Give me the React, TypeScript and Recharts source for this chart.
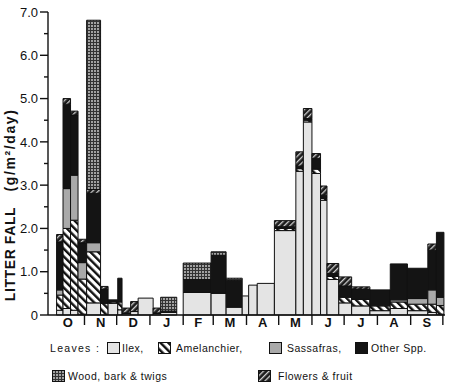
import { ComposedChart, Line, ReferenceArea, XAxis, YAxis } from "recharts";

// days counted from 1 October
const months = ["O", "N", "D", "J", "F", "M", "A", "M", "J", "J", "A", "S"];
const monthStarts = [0, 31, 61, 92, 123, 151, 182, 212, 243, 273, 304, 335, 365];
const yTicks = [0, 0.5, 1, 1.5, 2, 2.5, 3, 3.5, 4, 4.5, 5, 5.5, 6, 6.5, 7];

// collection intervals
const barStart = [5, 11, 18, 25, 33, 46, 53, 62, 66, 74, 81, 95, 102, 123, 149, 163, 178, 184, 192, 208, 228, 235, 243, 251, 257, 268, 280, 297, 316, 332, 351, 359];
const barEnd = [11, 18, 25, 33, 46, 53, 62, 66, 74, 81, 95, 102, 117, 149, 163, 178, 184, 192, 208, 228, 235, 243, 251, 257, 268, 280, 297, 316, 332, 351, 359, 366];

// g/m2/day, in stacking order bottom -> top
const ilex = [0.11, 0.15, 0.11, 0.02, 0.28, 0, 0.27, 0.12, 0.03, 0.08, 0.39, 0.03, 0.06, 0.52, 0.5, 0.18, 0.44, 0.69, 0.73, 1.95, 3.32, 4.46, 3.27, 2.65, 0.82, 0.28, 0.21, 0.1, 0.15, 0.1, 0.06, 0.02];
const amelanchier = [0.35, 1.85, 2.08, 0.81, 1.18, 0.27, 0.03, 0.18, 0, 0, 0, 0, 0, 0, 0, 0, 0, 0, 0, 0.05, 0.06, 0.04, 0.1, 0.04, 0.07, 0.13, 0.15, 0.11, 0.15, 0.15, 0.19, 0.2];
const sassafras = [0.12, 0.92, 1.04, 0.38, 0.21, 0, 0, 0, 0, 0, 0, 0, 0, 0, 0, 0, 0, 0, 0, 0, 0, 0, 0, 0, 0, 0, 0, 0, 0.05, 0.13, 0.33, 0.19];
const otherSpp = [1.11, 1.95, 1.39, 0.46, 1.14, 0.33, 0.05, 0.55, 0.02, 0, 0, 0.02, 0.03, 0.3, 0.88, 0.62, 0, 0, 0, 0.04, 0.06, 0.04, 0.25, 0.08, 0.07, 0.26, 0.24, 0.37, 0.83, 0.7, 0.92, 1.5];
const flowers = [0.17, 0.13, 0.09, 0.08, 0.09, 0.06, 0, 0, 0.11, 0.23, 0, 0.11, 0, 0, 0, 0, 0, 0, 0, 0.14, 0.33, 0.23, 0.11, 0.21, 0.23, 0.21, 0.05, 0, 0, 0, 0.14, 0];
const wood = [0, 0, 0, 0, 3.91, 0, 0, 0, 0, 0, 0, 0, 0.32, 0.38, 0.08, 0.05, 0, 0, 0, 0, 0, 0, 0, 0, 0, 0, 0, 0, 0, 0, 0, 0];

const layers = [
  { name: "Ilex,", values: ilex, fill: "#e4e4e4" },
  { name: "Amelanchier,", values: amelanchier, fill: "url(#pAmel)" },
  { name: "Sassafras,", values: sassafras, fill: "#a9a9a9" },
  { name: "Other Spp.", values: otherSpp, fill: "#141414" },
  { name: "Flowers & fruit", values: flowers, fill: "url(#pFlow)" },
  { name: "Wood, bark & twigs", values: wood, fill: "url(#pWood)" },
];

const ink = "#111";
const font = "'Liberation Sans', Arial, sans-serif";

const monthMids = months.map((_, i) => (monthStarts[i] + monthStarts[i + 1]) / 2);

const bars = barStart.map((s, i) => ({ x: (s + barEnd[i]) / 2, total: layers.reduce((a, l) => a + l.values[i], 0) }));

function YTick(props: any) {
  const { x, y, payload } = props;
  const v = payload.value as number;
  const major = Number.isInteger(v);
  return (
    <g>
      <line x1={x - (major ? 8 : 4)} x2={x} y1={y} y2={y} stroke={ink} strokeWidth={1.4} />
      {major && (
        <text x={x - 10} y={y} dy="0.36em" textAnchor="end" fontSize={13} fill={ink} fontFamily={font}>
          {v === 0 ? "0" : v.toFixed(1)}
        </text>
      )}
    </g>
  );
}

function XTick(props: any) {
  const { x, y } = props;
  return <line x1={x} x2={x} y1={y} y2={y + 10} stroke={ink} strokeWidth={1.4} />;
}

function YLabel(props: any) {
  const vb = props.viewBox;
  const cx = vb.x + 10;
  const y1 = vb.y + 242;
  const y2 = vb.y + 138;
  return (
    <g fontFamily={font} fontWeight="bold" fontSize={14} fill={ink}>
      <text x={cx} y={y1} textAnchor="middle" dominantBaseline="central" transform={`rotate(-90 ${cx} ${y1})`} letterSpacing={0.6}>
        LITTER  FALL
      </text>
      <text x={cx} y={y2} textAnchor="middle" dominantBaseline="central" transform={`rotate(-90 ${cx} ${y2})`} letterSpacing={1.6}>
        (g/m²/day)
      </text>
    </g>
  );
}

function Swatch({ fill, id }: { fill: string; id: string }) {
  return (
    <svg width={13} height={12} style={{ display: "block" }}>
      <defs>
        <Patterns prefix={id} />
      </defs>
      <rect x={0.5} y={0.5} width={12} height={11} fill={fill.replace("#p", `#${id}p`)} stroke={ink} strokeWidth={1} />
    </svg>
  );
}

function Patterns({ prefix = "" }: { prefix?: string }) {
  return (
    <>
      <pattern id={`${prefix}pAmel`} width={5.5} height={5.5} patternUnits="userSpaceOnUse" patternTransform="rotate(-45)">
        <rect width={5.5} height={5.5} fill="#fff" />
        <rect width={2.4} height={5.5} fill={ink} />
      </pattern>
      <pattern id={`${prefix}pFlow`} width={4} height={4} patternUnits="userSpaceOnUse" patternTransform="rotate(45)">
        <rect width={4} height={4} fill="#1c1c1c" />
        <rect width={1.3} height={4} fill="#cfcfcf" />
      </pattern>
      <pattern id={`${prefix}pWood`} width={3} height={3} patternUnits="userSpaceOnUse">
        <rect width={3} height={3} fill="#a2a2a2" />
        <rect width={3} height={1} fill="#333" />
        <rect width={1} height={3} fill="#333" />
      </pattern>
    </>
  );
}

const legendRow1 = [
  { layer: 0, box: 107, text: 122 },
  { layer: 1, box: 158, text: 176 },
  { layer: 2, box: 269, text: 287 },
  { layer: 3, box: 355, text: 371 },
];
const legendRow2 = [
  { layer: 5, box: 52, text: 68 },
  { layer: 4, box: 258, text: 278 },
];

export default function App() {
  const stacks: JSX.Element[] = [];
  barStart.forEach((s, i) => {
    let base = 0;
    layers.forEach((l, j) => {
      const v = l.values[i];
      if (v > 0) {
        stacks.push(
          <ReferenceArea
            key={`${i}-${j}`}
            xAxisId="days"
            x1={s}
            x2={barEnd[i]}
            y1={base}
            y2={base + v}
            fill={l.fill}
            fillOpacity={1}
            stroke={ink}
            strokeWidth={1}
          />
        );
      }
      base += v;
    });
  });

  const legendText = { position: "absolute" as const, fontFamily: font, fontSize: 10.5, letterSpacing: 0.5, color: ink, lineHeight: "12px", whiteSpace: "pre" as const };

  return (
    <div style={{ position: "absolute", left: 0, top: 0, width: 450, height: 386, background: "#fff", fontFamily: font }}>
      <ComposedChart width={450} height={330} data={bars} margin={{ top: 12, right: 5, bottom: 0, left: 0 }}>
        <defs>
          <Patterns />
        </defs>
        <XAxis
          xAxisId="days"
          type="number"
          dataKey="x"
          domain={[-3, 367]}
          allowDataOverflow
          ticks={monthStarts.slice(1)}
          interval={0}
          tick={(p: any) => <XTick {...p} />}
          tickSize={0}
          tickMargin={0}
          tickLine={false}
          axisLine={{ stroke: ink, strokeWidth: 1.4 }}
          height={1}
        />
        <XAxis
          xAxisId="months"
          type="number"
          dataKey="x"
          domain={[-3, 367]}
          allowDataOverflow
          ticks={monthMids}
          interval={0}
          tickFormatter={(_v: number, i: number) => months[i]}
          tick={{ fill: ink, fontSize: 13, fontWeight: "bold", fontFamily: font }}
          tickSize={0}
          tickMargin={2}
          tickLine={false}
          axisLine={false}
          height={14}
        />
        <YAxis
          type="number"
          domain={[0, 7]}
          allowDataOverflow
          ticks={yTicks}
          interval={0}
          tick={(p: any) => <YTick {...p} />}
          tickSize={0}
          tickMargin={0}
          tickLine={false}
          axisLine={{ stroke: ink, strokeWidth: 1.4 }}
          width={48}
          label={{ content: (p: any) => <YLabel {...p} /> }}
        />
        {stacks}
        <Line
          xAxisId="days"
          dataKey="total"
          stroke="none"
          dot={false}
          activeDot={false}
          legendType="none"
          isAnimationActive={false}
        />
      </ComposedChart>

      <div style={{ ...legendText, left: 50, top: 342, letterSpacing: 1.3 }}>Leaves :</div>
      {legendRow1.map((it) => (
        <div key={it.layer}>
          <div style={{ position: "absolute", left: it.box, top: 342 }}>
            <Swatch fill={layers[it.layer].fill} id={`l${it.layer}`} />
          </div>
          <div style={{ ...legendText, left: it.text, top: 342 }}>{layers[it.layer].name}</div>
        </div>
      ))}
      {legendRow2.map((it) => (
        <div key={it.layer}>
          <div style={{ position: "absolute", left: it.box, top: 370 }}>
            <Swatch fill={layers[it.layer].fill} id={`l${it.layer}`} />
          </div>
          <div style={{ ...legendText, left: it.text, top: 370 }}>{layers[it.layer].name}</div>
        </div>
      ))}
    </div>
  );
}
